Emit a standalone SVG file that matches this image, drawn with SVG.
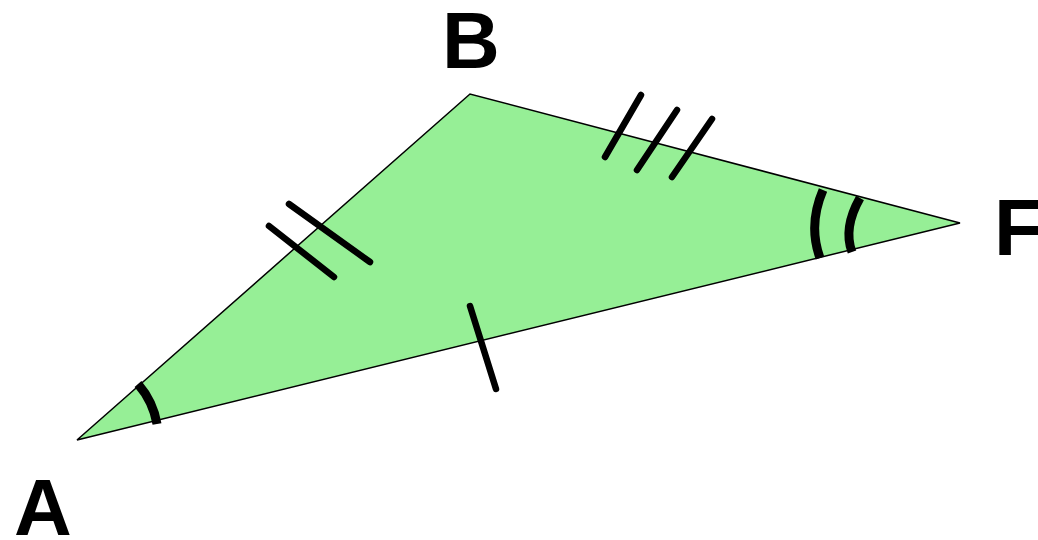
<svg xmlns="http://www.w3.org/2000/svg" width="1038" height="540" viewBox="0 0 1038 540">
<style>
.lbl{font-family:"Liberation Sans",Arial,sans-serif;font-weight:bold;font-size:80px;fill:#000}
.mark{stroke:#000;stroke-width:6.5;stroke-linecap:round;fill:none}
.arc{stroke:#000;stroke-width:9;fill:none}
</style>
<rect width="1038" height="540" fill="#fff"/>
<g id="triangle">
<polygon points="77,440 470,94 960,223" fill="#96ef96" stroke="#000" stroke-width="1.5" stroke-linejoin="miter"/>
</g>
<g id="ticks">
<line class="mark" x1="470" y1="306" x2="496" y2="389"/>
<line class="mark" x1="269" y1="226" x2="334" y2="277"/>
<line class="mark" x1="289" y1="204" x2="370" y2="262"/>
<line class="mark" x1="641" y1="95" x2="605" y2="157"/>
<line class="mark" x1="677" y1="110" x2="637" y2="170"/>
<line class="mark" x1="712" y1="119" x2="672" y2="177"/>
</g>
<g id="angles">
<path class="arc" d="M138,384 A83,83 0 0 1 157,424"/>
<path class="arc" d="M823,190 Q808,225 820,258"/>
<path class="arc" d="M860,198 Q843,228 852,252"/>
</g>
<g id="labels">
<text class="lbl" x="14" y="535">A</text>
<text class="lbl" x="442" y="68">B</text>
<text class="lbl" x="994" y="255">F</text>
</g>
</svg>
